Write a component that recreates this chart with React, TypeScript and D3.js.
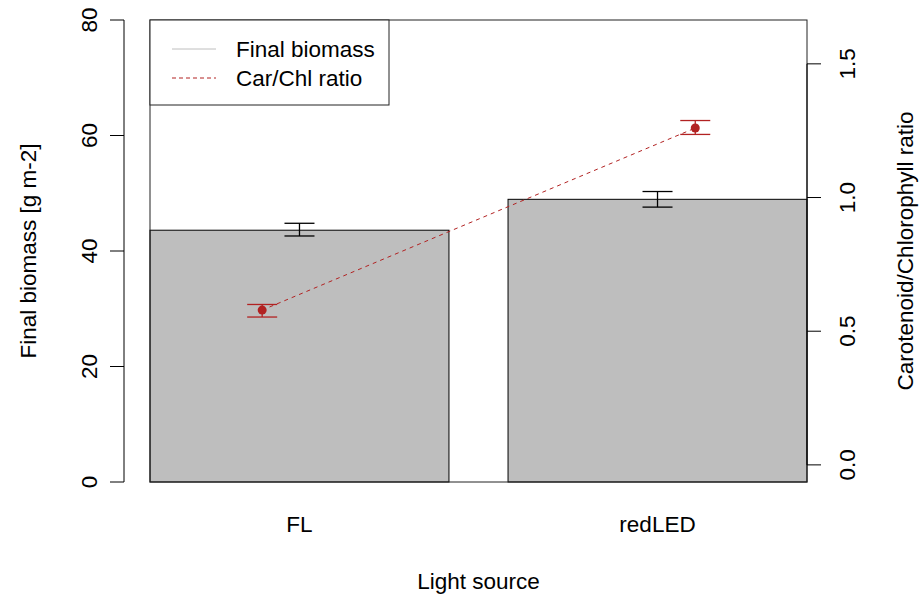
import React from "react";
import * as d3 from "d3";

const categories = ["FL", "redLED"];
const biomass = [43.6, 48.95];
const biomassLo = [42.6, 47.6];
const biomassHi = [44.8, 50.3];
const ratio = [0.579, 1.26];
const ratioLo = [0.553, 1.236];
const ratioHi = [0.6, 1.288];
const leftTicks = [0, 20, 40, 60, 80];
const rightTicks = [0, 0.5, 1, 1.5];
const legendLabels = ["Final biomass", "Car/Chl ratio"];

const W = 921, H = 594;
const L = 150, R = 807, T = 20, B = 482;
const FONT = "Arial, 'Liberation Sans', sans-serif";
const FS = 22.5;
const RED = "#B22222";

export default function App() {
  const yL = d3.scaleLinear().domain([0, 80]).range([B, T]);
  const yR = d3.scaleLinear().domain([-0.064, 1.664]).range([B, T]);
  const xBand = d3.scaleBand().domain(categories).range([L, R]).paddingInner(0.165).paddingOuter(0);
  const xPt = d3.scaleLinear().domain([0.741, 2.258]).range([L, R]);
  const line = d3.line<number>().x((_, i) => xPt(i + 1)).y((d) => yR(d));
  const cap = 15;
  return (
    <svg width={W} height={H} style={{ position: "absolute", left: 0, top: 0, background: "#fff" }}>
      <rect x={0} y={0} width={W} height={H} fill="#fff" />
      {categories.map((c, i) => (
        <rect key={c} x={xBand(c)} y={yL(biomass[i])} width={xBand.bandwidth()} height={B - yL(biomass[i])}
          fill="#BEBEBE" stroke="#000" strokeWidth={1} />
      ))}
      {categories.map((c, i) => {
        const cx = xBand(c)! + xBand.bandwidth() / 2;
        return (
          <g key={c} stroke="#000" strokeWidth={1.3}>
            <line x1={cx} x2={cx} y1={yL(biomassLo[i])} y2={yL(biomassHi[i])} />
            <line x1={cx - cap} x2={cx + cap} y1={yL(biomassLo[i])} y2={yL(biomassLo[i])} />
            <line x1={cx - cap} x2={cx + cap} y1={yL(biomassHi[i])} y2={yL(biomassHi[i])} />
          </g>
        );
      })}
      <path d={line(ratio)!} fill="none" stroke={RED} strokeWidth={1} strokeDasharray="4,4" />
      {ratio.map((v, i) => {
        const cx = xPt(i + 1);
        return (
          <g key={i}>
            <g stroke={RED} strokeWidth={1.3}>
              <line x1={cx} x2={cx} y1={yR(ratioLo[i])} y2={yR(ratioHi[i])} />
              <line x1={cx - cap} x2={cx + cap} y1={yR(ratioLo[i])} y2={yR(ratioLo[i])} />
              <line x1={cx - cap} x2={cx + cap} y1={yR(ratioHi[i])} y2={yR(ratioHi[i])} />
            </g>
            <circle cx={cx} cy={yR(v)} r={4.5} fill={RED} />
          </g>
        );
      })}
      <rect x={L} y={T} width={R - L} height={B - T} fill="none" stroke="#222" strokeWidth={1} />
      <rect x={L} y={T} width={239} height={85} fill="#fff" stroke="#222" strokeWidth={1} />
      <line x1={172} x2={216} y1={49} y2={49} stroke="#BEBEBE" strokeWidth={1} />
      <line x1={172} x2={216} y1={78} y2={78} stroke={RED} strokeWidth={1} strokeDasharray="4,3" />
      {legendLabels.map((t, i) => (
        <text key={t} x={236} y={49 + i * 29} dy="0.35em" fontFamily={FONT} fontSize={FS} fill="#000">{t}</text>
      ))}
      <line x1={124} x2={124} y1={yL(0)} y2={yL(80)} stroke="#000" />
      {leftTicks.map((t) => (
        <g key={t}>
          <line x1={110} x2={124} y1={yL(t)} y2={yL(t)} stroke="#000" />
          <text transform={`translate(89,${yL(t)}) rotate(-90)`} textAnchor="middle" dy="0.35em"
            fontFamily={FONT} fontSize={FS} fill="#000">{t}</text>
        </g>
      ))}
      <text transform={`translate(28,${(T + B) / 2}) rotate(-90)`} textAnchor="middle" dy="0.35em"
        fontFamily={FONT} fontSize={FS} fill="#000">Final biomass [g m-2]</text>
      <line x1={R} x2={R} y1={yR(0)} y2={yR(1.5)} stroke="#000" />
      {rightTicks.map((t) => (
        <g key={t}>
          <line x1={R} x2={821} y1={yR(t)} y2={yR(t)} stroke="#000" />
          <text transform={`translate(847,${yR(t)}) rotate(-90)`} textAnchor="middle" dy="0.35em"
            fontFamily={FONT} fontSize={FS} fill="#000">{t.toFixed(1)}</text>
        </g>
      ))}
      <text transform={`translate(905,${(T + B) / 2}) rotate(-90)`} textAnchor="middle" dy="0.35em"
        fontFamily={FONT} fontSize={FS} fill="#000">Carotenoid/Chlorophyll ratio</text>
      {categories.map((c) => (
        <text key={c} x={xBand(c)! + xBand.bandwidth() / 2} y={524} dy="0.35em" textAnchor="middle"
          fontFamily={FONT} fontSize={FS} fill="#000">{c}</text>
      ))}
      <text x={(L + R) / 2} y={581} dy="0.35em" textAnchor="middle" fontFamily={FONT} fontSize={FS} fill="#000">Light source</text>
    </svg>
  );
}
